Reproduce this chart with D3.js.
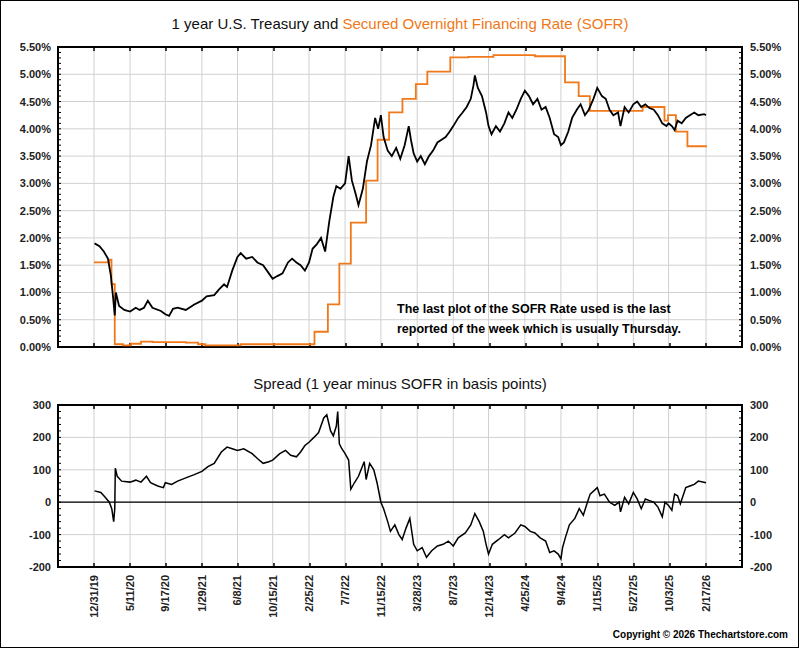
<!DOCTYPE html>
<html>
<head>
<meta charset="utf-8">
<script src="https://cdn.jsdelivr.net/npm/d3@7"></script>
<style>
  body { margin: 0; background: #fff; }
  text { font-family: Arial, "Liberation Sans", sans-serif; }
</style>
</head>
<body>
<svg id="chart" width="800" height="649"></svg>
<script>
// ---- data ----
var tickLabels = ['12/31/19','5/11/20','9/17/20','1/29/21','6/8/21','10/15/21','2/25/22','7/7/22','11/15/22',
  '3/28/23','8/7/23','12/14/23','4/25/24','9/4/24','1/15/25','5/27/25','10/3/25','2/17/26'];

var tsyDates = ['2020-01-02','2020-01-20','2020-02-05','2020-02-20','2020-03-02','2020-03-10','2020-03-16','2020-03-20',
  '2020-04-01','2020-04-20','2020-05-11','2020-06-01','2020-06-15','2020-07-01','2020-07-15','2020-08-01','2020-09-01',
  '2020-09-17','2020-10-01','2020-10-15','2020-11-01','2020-12-01','2021-01-01','2021-01-29','2021-02-15','2021-03-15',
  '2021-04-01','2021-04-20','2021-05-01','2021-05-20','2021-06-08','2021-06-20','2021-07-10','2021-08-01','2021-08-20',
  '2021-09-10','2021-10-01','2021-10-15','2021-11-01','2021-11-20','2021-12-10','2021-12-25','2022-01-10','2022-01-25',
  '2022-02-10','2022-02-25','2022-03-10','2022-03-25','2022-04-10','2022-04-25','2022-05-10','2022-05-25','2022-06-05',
  '2022-06-20','2022-07-07','2022-07-20','2022-08-01','2022-08-15','2022-08-25','2022-09-10','2022-09-25','2022-10-10',
  '2022-10-25','2022-11-05','2022-11-15','2022-11-25','2022-12-10','2022-12-25','2023-01-10','2023-01-25','2023-02-10',
  '2023-02-25','2023-03-05','2023-03-15','2023-03-28','2023-04-10','2023-04-25','2023-05-10','2023-05-25','2023-06-10',
  '2023-06-25','2023-07-10','2023-07-25','2023-08-07','2023-08-25','2023-09-10','2023-09-25','2023-10-10','2023-10-20',
  '2023-10-25','2023-11-05','2023-11-20','2023-12-05','2023-12-14','2023-12-25','2024-01-10','2024-01-25','2024-02-10',
  '2024-02-25','2024-03-10','2024-03-25','2024-04-10','2024-04-25','2024-05-10','2024-05-25','2024-06-10','2024-06-25',
  '2024-07-10','2024-07-25','2024-08-10','2024-08-25','2024-09-04','2024-09-15','2024-10-01','2024-10-15','2024-11-01',
  '2024-11-15','2024-12-01','2024-12-15','2025-01-01','2025-01-15','2025-02-01','2025-02-15','2025-03-01','2025-03-15',
  '2025-04-01','2025-04-10','2025-04-25','2025-05-10','2025-05-27','2025-06-10','2025-06-25','2025-07-10','2025-07-25',
  '2025-08-10','2025-08-25','2025-09-10','2025-09-25','2025-10-03','2025-10-15','2025-10-25','2025-11-05','2025-11-20',
  '2025-12-05','2025-12-20','2026-01-05','2026-01-20','2026-02-10','2026-02-17'];
var tsyValues = [1.90,1.85,1.75,1.62,1.30,0.90,0.58,1.00,
  0.75,0.68,0.65,0.72,0.68,0.72,0.85,0.72,0.66,
  0.60,0.57,0.70,0.72,0.68,0.78,0.85,0.93,0.95,
  1.05,1.15,1.10,1.40,1.65,1.72,1.62,1.65,1.55,
  1.50,1.35,1.25,1.30,1.35,1.55,1.62,1.55,1.50,
  1.40,1.55,1.80,1.88,2.00,1.75,2.30,2.75,2.95,
  2.90,3.00,3.50,3.05,2.80,2.60,2.90,3.40,3.70,
  4.20,4.00,4.25,3.85,3.60,3.50,3.65,3.45,3.70,
  4.05,3.80,3.55,3.40,3.50,3.35,3.50,3.60,3.75,
  3.80,3.85,3.95,4.05,4.20,4.30,4.40,4.55,4.80,
  4.98,4.75,4.60,4.30,4.05,3.90,4.05,3.95,4.10,
  4.30,4.20,4.35,4.55,4.70,4.60,4.45,4.55,4.35,
  4.40,4.20,3.90,3.85,3.70,3.75,3.95,4.20,4.35,
  4.45,4.25,4.35,4.55,4.75,4.60,4.55,4.35,4.25,
  4.30,4.05,4.40,4.30,4.45,4.50,4.40,4.45,4.38,
  4.35,4.25,4.10,4.05,4.10,4.05,3.98,4.15,4.10,
  4.20,4.25,4.30,4.25,4.27,4.25];

var sofrDates = ['2019-12-31','2020-02-25','2020-03-04','2020-03-16','2020-04-15','2020-05-15','2020-06-20','2020-08-01',
  '2020-10-01','2020-12-01','2021-01-15','2021-02-10','2021-06-20','2021-09-01','2022-03-17','2022-05-05','2022-06-16',
  '2022-07-28','2022-09-22','2022-11-03','2022-12-15','2023-02-02','2023-03-23','2023-05-04','2023-07-27','2023-10-01',
  '2024-01-01','2024-06-01','2024-09-19','2024-11-08','2024-12-19','2025-03-01','2025-06-30','2025-09-18','2025-10-01',
  '2025-10-30','2025-12-11','2026-02-17'];
var sofrValues = [1.55,1.60,1.15,0.05,0.03,0.06,0.10,0.09,
  0.09,0.08,0.05,0.03,0.05,0.05,0.28,0.78,1.53,
  2.28,3.05,3.80,4.30,4.55,4.82,5.05,5.31,5.32,
  5.35,5.33,4.85,4.60,4.33,4.33,4.40,4.15,4.25,
  3.95,3.68,3.66];

var spreadDates = ['2020-01-02','2020-01-25','2020-02-10','2020-02-25','2020-03-05','2020-03-12','2020-03-16','2020-03-18',
  '2020-03-25','2020-04-10','2020-05-11','2020-06-01','2020-06-20','2020-07-10','2020-07-25','2020-08-20','2020-09-10',
  '2020-09-17','2020-10-10','2020-11-01','2020-12-01','2021-01-01','2021-01-29','2021-02-20','2021-03-15','2021-04-10',
  '2021-05-01','2021-05-20','2021-06-08','2021-07-01','2021-08-01','2021-08-20','2021-09-10','2021-10-01','2021-10-15',
  '2021-11-10','2021-12-01','2021-12-20','2022-01-10','2022-01-25','2022-02-10','2022-02-25','2022-03-15','2022-04-01',
  '2022-04-20','2022-05-01','2022-05-15','2022-05-25','2022-06-05','2022-06-10','2022-06-16','2022-06-25','2022-07-07',
  '2022-07-20','2022-07-28','2022-08-10','2022-08-25','2022-09-15','2022-09-22','2022-10-05','2022-10-20','2022-11-01',
  '2022-11-15','2022-11-25','2022-12-10','2022-12-20','2023-01-05','2023-01-20','2023-02-01','2023-02-15','2023-03-01',
  '2023-03-15','2023-03-28','2023-04-15','2023-05-01','2023-05-20','2023-06-10','2023-07-01','2023-07-20','2023-08-07',
  '2023-08-25','2023-09-20','2023-10-10','2023-10-25','2023-11-10','2023-11-25','2023-12-05','2023-12-14','2023-12-28',
  '2024-01-20','2024-02-10','2024-02-25','2024-03-20','2024-04-10','2024-04-25','2024-05-15','2024-06-01','2024-06-20',
  '2024-07-10','2024-07-25','2024-08-10','2024-08-25','2024-09-04','2024-09-10','2024-09-20','2024-10-05','2024-10-25',
  '2024-11-10','2024-11-25','2024-12-10','2024-12-20','2025-01-15','2025-01-25','2025-02-10','2025-03-01','2025-03-20',
  '2025-04-05','2025-04-10','2025-04-25','2025-05-10','2025-05-27','2025-06-10','2025-06-25','2025-07-10','2025-07-25',
  '2025-08-10','2025-08-25','2025-09-10','2025-09-20','2025-10-03','2025-10-15','2025-10-25','2025-11-05','2025-11-15',
  '2025-11-25','2025-12-05','2025-12-20','2026-01-05','2026-01-20','2026-02-17'];
var spreadValues = [35,30,15,0,-20,-60,-20,105,
  80,65,62,68,62,80,60,50,45,
  60,55,65,75,85,95,110,120,155,
  170,165,160,165,150,135,120,125,130,
  150,160,145,140,155,175,185,200,215,
  260,270,220,205,235,280,180,165,150,
  130,40,60,80,125,70,120,100,60,
  0,-20,-60,-90,-70,-100,-115,-80,-50,
  -130,-150,-140,-170,-150,-135,-130,-120,-135,
  -110,-95,-70,-35,-60,-90,-130,-160,-130,
  -115,-100,-110,-95,-70,-75,-90,-95,-110,
  -120,-155,-150,-160,-175,-140,-110,-70,-50,
  -20,-40,0,25,45,20,25,0,-10,
  0,-30,15,-5,30,10,-20,10,5,
  0,-15,-45,0,-10,-25,25,20,-5,
  20,45,50,55,65,60];

var rateTicks = [0,0.5,1,1.5,2,2.5,3,3.5,4,4.5,5,5.5];
var spreadTicks = [-200,-100,0,100,200,300];

// ---- layout ----
var parse = d3.timeParse('%Y-%m-%d');
var tickDates = tickLabels.map(function(s) { return d3.timeParse('%m/%d/%y')(s); });
var left = 58, right = 742;
var svg = d3.select('#chart');

svg.append('rect').attr('x', 0.5).attr('y', 0.5).attr('width', 798).attr('height', 647)
  .attr('fill', '#fff').attr('stroke', '#000');

// tick grid is evenly spaced; place first/last tick one step in from plot edges
var step = (right - left) / (tickLabels.length + 1);
var x = d3.scaleTime()
  .domain([tickDates[0], tickDates[tickDates.length - 1]])
  .range([left + step, right - step]);

var yTop = d3.scaleLinear().domain([0, 5.5]).range([347, 47]);
var yBot = d3.scaleLinear().domain([-200, 300]).range([567, 405]);

function panel(y, ticks, minorStep, fmt, top, bottom) {
  var g = svg.append('g');
  g.selectAll('.hg').data(ticks).enter().append('line')
    .attr('x1', left).attr('x2', right)
    .attr('y1', function(d) { return y(d); }).attr('y2', function(d) { return y(d); })
    .attr('stroke', '#d0d0d0');
  g.selectAll('.vg').data(tickDates).enter().append('line')
    .attr('x1', function(d) { return x(d); }).attr('x2', function(d) { return x(d); })
    .attr('y1', top).attr('y2', bottom).attr('stroke', '#d0d0d0');

  // minor ticks
  var minors = d3.range(y.domain()[0], y.domain()[1] + 1e-9, minorStep);
  [left, right].forEach(function(px, i) {
    g.selectAll('.mn' + i).data(minors).enter().append('line')
      .attr('x1', px).attr('x2', px + (i ? -3 : 3))
      .attr('y1', function(d) { return y(d); }).attr('y2', function(d) { return y(d); })
      .attr('stroke', '#000');
  });
  [top, bottom].forEach(function(py, i) {
    var xt = d3.range(tickLabels.length + 2).map(function(k) { return left + k * step; });
    g.selectAll('.xt' + i).data(xt).enter().append('line')
      .attr('x1', function(d) { return d; }).attr('x2', function(d) { return d; })
      .attr('y1', py).attr('y2', py + (i ? -4 : 4)).attr('stroke', '#000').attr('stroke-width', 1.5);
  });

  g.append('rect').attr('x', left).attr('y', top).attr('width', right - left).attr('height', bottom - top)
    .attr('fill', 'none').attr('stroke', '#000').attr('stroke-width', 2);

  g.selectAll('.ll').data(ticks).enter().append('text')
    .attr('x', left - 7).attr('y', function(d) { return y(d) + 4; })
    .attr('text-anchor', 'end').attr('font-size', 11).attr('font-weight', 'bold').attr('fill', '#222')
    .text(fmt);
  g.selectAll('.rl').data(ticks).enter().append('text')
    .attr('x', right + 8).attr('y', function(d) { return y(d) + 4; })
    .attr('font-size', 11).attr('font-weight', 'bold').attr('fill', '#222')
    .text(fmt);
}

panel(yTop, rateTicks, 0.1, function(d) { return d.toFixed(2) + '%'; }, 47, 347);
panel(yBot, spreadTicks, 20, function(d) { return d; }, 405, 567);

svg.append('line').attr('x1', left).attr('x2', right).attr('y1', yBot(0)).attr('y2', yBot(0))
  .attr('stroke', '#000').attr('stroke-width', 1.2);

// ---- series ----
var sofrPts = sofrDates.map(function(d, i) { return [parse(d), sofrValues[i]]; });
var tsyPts = tsyDates.map(function(d, i) { return [parse(d), tsyValues[i]]; });
var sprPts = spreadDates.map(function(d, i) { return [parse(d), spreadValues[i]]; });

svg.append('path').datum(sofrPts)
  .attr('d', d3.line().curve(d3.curveStepAfter).x(function(d) { return x(d[0]); }).y(function(d) { return yTop(d[1]); }))
  .attr('fill', 'none').attr('stroke', '#f07818').attr('stroke-width', 1.8);
svg.append('path').datum(tsyPts)
  .attr('d', d3.line().x(function(d) { return x(d[0]); }).y(function(d) { return yTop(d[1]); }))
  .attr('fill', 'none').attr('stroke', '#000').attr('stroke-width', 1.8);
svg.append('path').datum(sprPts)
  .attr('d', d3.line().x(function(d) { return x(d[0]); }).y(function(d) { return yBot(d[1]); }))
  .attr('fill', 'none').attr('stroke', '#000').attr('stroke-width', 1.5);

// ---- text ----
var title = svg.append('text').attr('x', 400).attr('y', 29).attr('text-anchor', 'middle').attr('font-size', 15);
title.append('tspan').attr('fill', '#111').text('1 year U.S. Treasury and ');
title.append('tspan').attr('fill', '#f07818').text('Secured Overnight Financing Rate (SOFR)');

svg.append('text').attr('x', 400).attr('y', 389).attr('text-anchor', 'middle').attr('font-size', 15)
  .attr('fill', '#111').text('Spread (1 year  minus SOFR in basis points)');

svg.append('text').attr('x', 397).attr('y', 313).attr('font-size', 12.5).attr('font-weight', 'bold')
  .text('The last plot of the SOFR Rate used is the last');
svg.append('text').attr('x', 397).attr('y', 333).attr('font-size', 12.5).attr('font-weight', 'bold')
  .text('reported of the week which is usually Thursday.');

svg.selectAll('.xl').data(tickDates).enter().append('text')
  .attr('transform', function(d) { return 'translate(' + (x(d) + 4) + ',575) rotate(-90)'; })
  .attr('text-anchor', 'end').attr('font-size', 11).attr('font-weight', 'bold').attr('fill', '#222')
  .text(function(d, i) { return tickLabels[i]; });

svg.append('text').attr('x', 788).attr('y', 638).attr('text-anchor', 'end').attr('font-size', 10)
  .attr('font-weight', 'bold').text('Copyright \u00a9 2026 Thechartstore.com');
</script>
</body>
</html>
